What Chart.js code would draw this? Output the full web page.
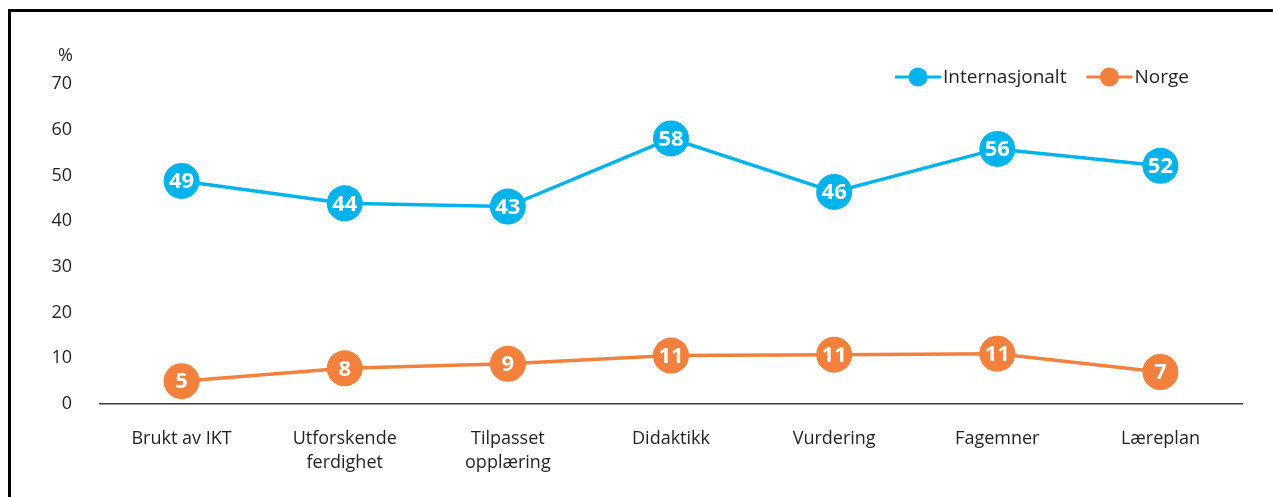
<!DOCTYPE html>
<html>
<head>
<meta charset="utf-8">
<script src="https://cdn.jsdelivr.net/npm/chart.js@4"></script>
<style>
  body { margin: 0; background: #fff; }
  .wrap { position: relative; width: 1273px; height: 497px; }
  .frame { position: absolute; left: 8px; top: 9px; right: 0; bottom: 0;
           border-top: 3px solid #000; border-left: 3px solid #000; pointer-events: none; }
</style>
</head>
<body>
<div class="wrap">
  <canvas id="chart-js" width="1273" height="497"></canvas>
  <div class="frame"></div>
</div>
<script>
const categories = [
  'Brukt av IKT',
  ['Utforskende', 'ferdighet'],
  ['Tilpasset', 'opplæring'],
  'Didaktikk',
  'Vurdering',
  'Fagemner',
  'Læreplan'
];
const internasjonalt = [48.8, 43.9, 43.2, 58.1, 46.4, 55.8, 52.1];
const norge = [5.0, 7.8, 8.8, 10.6, 10.8, 11.0, 7.0];
const yTicks = [0, 10, 20, 30, 40, 50, 60, 70];

const blue = '#00b4eb';
const orange = '#f3813d';
const textColor = '#231f20';
const fontFamily = '"Open Sans", "Noto Sans", sans-serif';

// white numbers inside the markers
const valueLabels = {
  id: 'valueLabels',
  afterDatasetsDraw(chart) {
    const ctx = chart.ctx;
    ctx.save();
    ctx.fillStyle = '#fff';
    ctx.font = 'bold 22px ' + fontFamily;
    ctx.textAlign = 'center';
    ctx.textBaseline = 'middle';
    chart.data.datasets.forEach((ds, i) => {
      chart.getDatasetMeta(i).data.forEach((pt, j) => {
        ctx.fillText(Math.round(ds.data[j]), pt.x, pt.y + 1);
      });
    });
    ctx.restore();
  }
};

// legend in the top right corner and the % unit
const extras = {
  id: 'extras',
  afterDraw(chart) {
    const ctx = chart.ctx;
    const y = chart.scales.y;
    ctx.save();
    ctx.font = '18px ' + fontFamily;
    ctx.fillStyle = textColor;
    ctx.textBaseline = 'middle';
    ctx.textAlign = 'right';
    ctx.fillText('%', y.right - 27, y.top - 28);

    ctx.font = '19px ' + fontFamily;
    ctx.textAlign = 'left';
    let x = 895;
    const ly = 77;
    chart.data.datasets.forEach((ds) => {
      ctx.strokeStyle = ds.borderColor;
      ctx.lineWidth = 3;
      ctx.beginPath();
      ctx.moveTo(x, ly);
      ctx.lineTo(x + 46, ly);
      ctx.stroke();
      ctx.fillStyle = ds.borderColor;
      ctx.beginPath();
      ctx.arc(x + 23, ly, 9.5, 0, Math.PI * 2);
      ctx.fill();
      ctx.fillStyle = textColor;
      ctx.fillText(ds.label, x + 48, ly + 1);
      x += 48 + ctx.measureText(ds.label).width + 20;
    });
    ctx.restore();
  }
};

new Chart(document.getElementById('chart-js'), {
  type: 'line',
  data: {
    labels: categories,
    datasets: [{
      label: 'Internasjonalt',
      data: internasjonalt,
      borderColor: blue,
      backgroundColor: blue,
      borderWidth: 3.5,
      pointRadius: 18,
      pointBorderWidth: 0,
      tension: 0
    }, {
      label: 'Norge',
      data: norge,
      borderColor: orange,
      backgroundColor: orange,
      borderWidth: 3.5,
      pointRadius: 18,
      pointBorderWidth: 0,
      tension: 0
    }]
  },
  options: {
    responsive: false,
    animation: false,
    layout: { padding: { left: 0, top: 84, right: 31, bottom: 0 } },
    plugins: {
      legend: { display: false },
      tooltip: { enabled: false }
    },
    scales: {
      x: {
        offset: true,
        grid: { display: false, drawTicks: false },
        border: { display: true, color: '#3a3a3a', width: 1.5 },
        ticks: {
          color: textColor,
          padding: 23,
          maxRotation: 0,
          autoSkip: false,
          font: { family: fontFamily, size: 18, lineHeight: 1.33 }
        },
        afterFit(scale) { scale.height = 93; }
      },
      y: {
        min: 0,
        max: 70,
        afterBuildTicks(scale) { scale.ticks = yTicks.map(v => ({ value: v })); },
        grid: { display: false, drawTicks: false },
        border: { display: false },
        ticks: {
          color: textColor,
          padding: 28,
          font: { family: fontFamily, size: 18 }
        },
        afterFit(scale) { scale.width = 100; }
      }
    }
  },
  plugins: [valueLabels, extras]
});
</script>
</body>
</html>
